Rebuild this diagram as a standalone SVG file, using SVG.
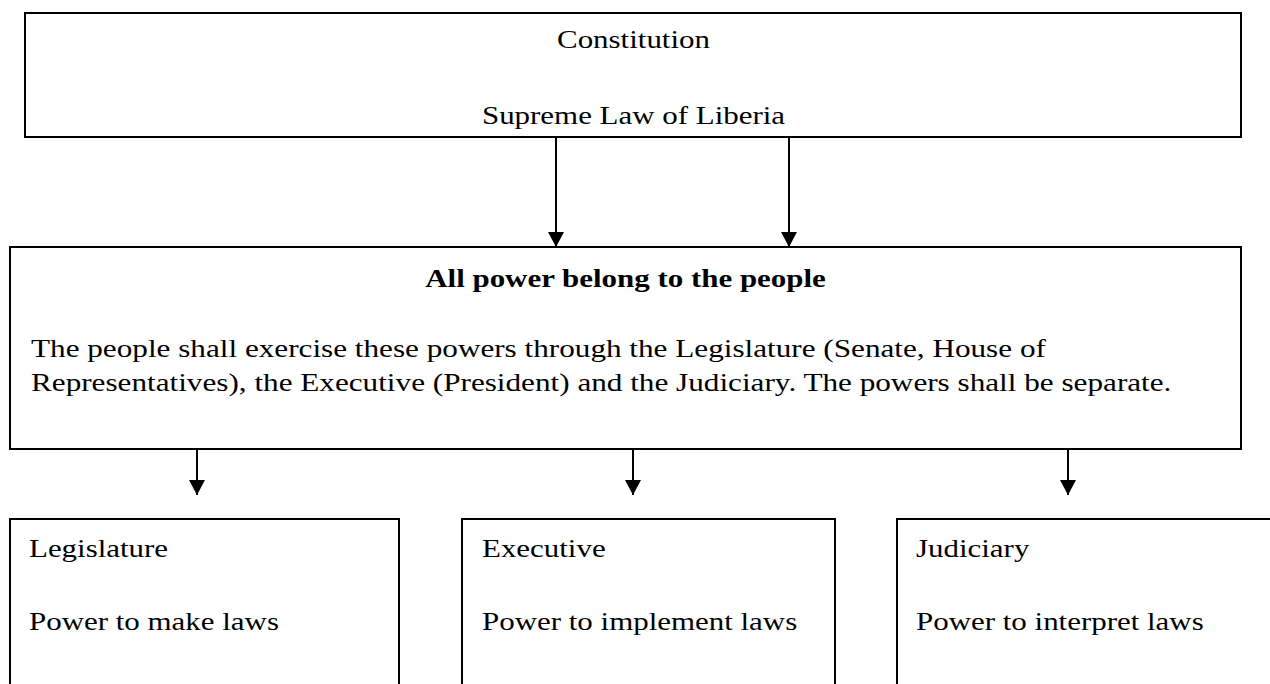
<svg xmlns="http://www.w3.org/2000/svg" width="1270" height="684" viewBox="0 0 1270 684">
<style>
.box{fill:#fff;stroke:#000;stroke-width:2}
.t{font-family:"Liberation Serif","Times New Roman",serif;font-size:26px;fill:#000}
.b{font-weight:bold}
.c{text-anchor:middle}
.conn{stroke:#000;stroke-width:2;fill:none}
</style>
<defs>
<marker id="ah" markerWidth="15" markerHeight="16" refX="15" refY="8" orient="auto" markerUnits="userSpaceOnUse">
<path d="M0,0 L15,8 L0,16 Z" fill="#000"/>
</marker>
</defs>
<rect width="1270" height="684" fill="#fff"/>
<g id="constitution">
<rect class="box" x="25" y="13" width="1216" height="124"/>
<text class="t c" transform="translate(633.5 48) scale(1.19 1)">Constitution</text>
<text class="t c" transform="translate(633.5 124) scale(1.19 1)">Supreme Law of Liberia</text>
</g>
<g id="people">
<rect class="box" x="10" y="247" width="1231" height="202"/>
<text class="t b c" transform="translate(625.5 287) scale(1.19 1)">All power belong to the people</text>
<text class="t" transform="translate(31 357) scale(1.2 1)">The people shall exercise these powers through the Legislature (Senate, House of</text>
<text class="t" transform="translate(31 391) scale(1.2 1)">Representatives), the Executive (President) and the Judiciary. The powers shall be separate.</text>
</g>
<g id="legislature">
<rect class="box" x="10" y="519" width="389" height="180"/>
<text class="t" transform="translate(29 557) scale(1.19 1)">Legislature</text>
<text class="t" transform="translate(29 630) scale(1.19 1)">Power to make laws</text>
</g>
<g id="executive">
<rect class="box" x="462" y="519" width="373" height="180"/>
<text class="t" transform="translate(482 557) scale(1.19 1)">Executive</text>
<text class="t" transform="translate(482 630) scale(1.19 1)">Power to implement laws</text>
</g>
<g id="judiciary">
<rect class="box" x="897" y="519" width="400" height="180"/>
<text class="t" transform="translate(916 557) scale(1.19 1)">Judiciary</text>
<text class="t" transform="translate(916 630) scale(1.19 1)">Power to interpret laws</text>
</g>
<g id="connectors">
<line class="conn" x1="556" y1="137" x2="556" y2="247" marker-end="url(#ah)"/>
<line class="conn" x1="789" y1="137" x2="789" y2="247" marker-end="url(#ah)"/>
<line class="conn" x1="197" y1="449" x2="197" y2="495" marker-end="url(#ah)"/>
<line class="conn" x1="633" y1="449" x2="633" y2="495" marker-end="url(#ah)"/>
<line class="conn" x1="1068" y1="449" x2="1068" y2="495" marker-end="url(#ah)"/>
</g>
</svg>
